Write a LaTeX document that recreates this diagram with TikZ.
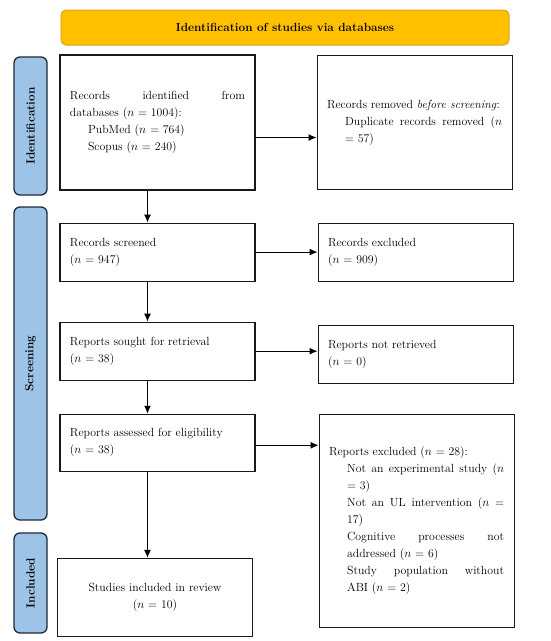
\documentclass[tikz,border=0pt]{standalone}
\usepackage[dvipsnames]{xcolor}
\usepackage{tikz}
\usetikzlibrary{ arrows, arrows.meta, calc, positioning }
\definecolor{headfill}{HTML}{FFC000}
\definecolor{headdraw}{HTML}{D9A514}
\definecolor{sidefill}{HTML}{9DC3E6}
\definecolor{sidedraw}{HTML}{1E2A36}
\newcommand{\boxfont}{\fontsize{11.8pt}{17pt}\selectfont}
\newcommand{\inditem}[1]{\par{\leftskip=18pt #1\par}}
\tikzset{
>={Latex[length=8pt,width=7pt]}, % filled arrow heads
every node/.style={inner sep=1pt},
stage/.style={draw=black!90, line width=1.1pt, font=\boxfont, text width=175pt,
  inner xsep=10pt, align=justify}, % the white PRISMA boxes
header/.style={draw=headdraw, fill=headfill, line width=1pt, rounded corners=5pt,
  minimum width=448pt, minimum height=35pt, font=\boxfont\bfseries},
phase/.style={draw=sidedraw, fill=sidefill, line width=1.3pt, rounded corners=6pt,
  minimum width=33pt, font=\boxfont\bfseries, rotate=90},
flow/.style={->, line width=1.1pt},
}
\begin{document}
\begin{tikzpicture}[x=1pt, y=-1pt]
  \useasboundingbox (0,0) rectangle (550,641);
  \node[header] (head) at (285,27.5) {Identification of studies via databases};

  % phase labels on the left
  \node[phase, minimum width=138pt, minimum height=33pt] (identif) at (30.5,126) {Identification};
  \node[phase, minimum width=313pt, minimum height=33pt] (screen) at (30.5,363.5) {Screening};
  \node[phase, minimum width=100pt, minimum height=33pt] (incl) at (30.5,583) {Included};

  % left column
  \node[stage, minimum height=135pt] (recid) at (157.5,122.5)
    {Records identified from\linebreak databases ($n$ = 1004):
     \inditem{PubMed ($n$ = 764)}\vspace{-\parskip}
     \inditem{Scopus ($n$ = 240)}};
  \node[stage, minimum height=58pt, below=32pt of recid] (screened)
    {Records screened\\($n$ = 947)};
  \node[stage, minimum height=58pt, below=40pt of screened] (sought)
    {Reports sought for retrieval\\($n$ = 38)};
  \node[stage, minimum height=57pt, below=33pt of sought] (assessed)
    {Reports assessed for eligibility\\($n$ = 38)};
  \node[stage, align=center, minimum height=78pt, below=86pt of assessed, xshift=-2.5pt] (included)
    {Studies included in review\\($n$ = 10)};

  % right column
  \node[stage, minimum height=134pt, right=61pt of recid] (removed)
    {Records removed \textit{before screening}:
     \inditem{Duplicate records removed ($n$\linebreak = 57)}};
  \node[stage, minimum height=58pt, right=62pt of screened] (excl)
    {Records excluded\\($n$ = 909)};
  \node[stage, minimum height=58pt, right=62pt of sought, yshift=-3pt] (notret)
    {Reports not retrieved\\($n$ = 0)};
  \node[stage, minimum height=213pt, right=63pt of assessed.north east, anchor=north west] (repexcl)
    {Reports excluded ($n$ = 28):
     \inditem{Not an experimental study ($n$\linebreak = 3)}
     \inditem{Not an UL intervention ($n$ =\linebreak 17)}
     \inditem{Cognitive processes not\linebreak addressed ($n$ = 6)}
     \inditem{Study population without\linebreak ABI ($n$ = 2)}};

  % connectors
  \draw[flow] ([yshift=-15pt]recid.east) -- ([yshift=-15pt]recid.east -| removed.west);
  \draw[flow] (screened.east) -- (screened.east -| excl.west);
  \draw[flow] (sought.east) -- (sought.east -| notret.west);
  \draw[flow] ([yshift=-2.5pt]assessed.east) -- ([yshift=-2.5pt]assessed.east -| repexcl.west);
  \draw[flow] ([xshift=-10pt]recid.south) -- ([xshift=-10pt]recid.south |- screened.north);
  \draw[flow] ([xshift=-10pt]screened.south) -- ([xshift=-10pt]screened.south |- sought.north);
  \draw[flow] ([xshift=-10pt]sought.south) -- ([xshift=-10pt]sought.south |- assessed.north);
  \draw[flow] ([xshift=-10pt]assessed.south) -- ([xshift=-10pt]assessed.south |- included.north);
\end{tikzpicture}
\end{document}
